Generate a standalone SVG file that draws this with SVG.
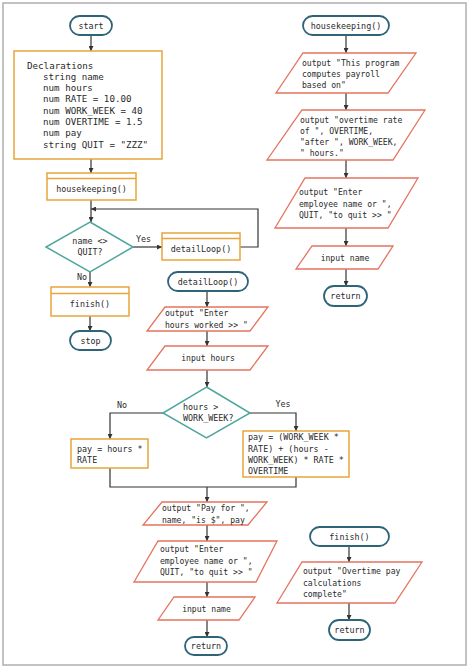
<svg xmlns="http://www.w3.org/2000/svg" width="470" height="668" viewBox="0 0 470 668">
  <style>
    text { font-family: "DejaVu Sans Mono", "Liberation Mono", monospace; fill: #2a2a2a; }
    .t  { font-size: 8.4px; }
    .p  { font-size: 8.1px; }
    .d  { font-size: 9.2px; }
    .c  { text-anchor: middle; }
    .term { fill: #fff; stroke: #2e6378; stroke-width: 1.8; }
    .proc { fill: #fff; stroke: #e9a53b; stroke-width: 1.5; }
    .io   { fill: #fff; stroke: #e5735f; stroke-width: 1.3; }
    .dec  { fill: #fff; stroke: #4fa79c; stroke-width: 1.5; }
    .wire { fill: none; stroke: #333; stroke-width: 1.2; }
    .arr  { marker-end: url(#ah); }
  </style>
  <defs>
    <marker id="ah" viewBox="0 0 8 8" refX="8" refY="4" markerWidth="5" markerHeight="5" markerUnits="userSpaceOnUse" orient="auto">
      <path d="M0,0 L8,4 L0,8 z" fill="#333"/>
    </marker>
  </defs>

  <rect x="0" y="0" width="470" height="668" fill="#fff"/>
  <rect x="3" y="3" width="463" height="662" fill="none" stroke="#b0aeb0" stroke-width="1.5"/>

  <!-- connectors -->
  <g id="connectors">
    <!-- main program -->
    <path class="wire arr" d="M91,35 V51"/>
    <path class="wire arr" d="M91,159 V173"/>
    <path class="wire arr" d="M91,200 V222"/>
    <path class="wire arr" d="M133,247 H162"/>
    <path class="wire arr" d="M240,247 H258 V209 H91"/>
    <path class="wire arr" d="M90,272 V287"/>
    <path class="wire arr" d="M90,316 V331"/>
    <!-- detailLoop -->
    <path class="wire arr" d="M207,291 V307"/>
    <path class="wire arr" d="M207,331 V346"/>
    <path class="wire arr" d="M207,370 V387"/>
    <path class="wire arr" d="M163,413 H110 V439"/>
    <path class="wire arr" d="M250,413 H296 V431"/>
    <path class="wire" d="M110,468 V487 H296 V477"/>
    <path class="wire arr" d="M207,487 V502"/>
    <path class="wire arr" d="M207,525 V541"/>
    <path class="wire arr" d="M207,582 V597"/>
    <path class="wire arr" d="M207,620 V637"/>
    <!-- housekeeping -->
    <path class="wire arr" d="M346,35 V53"/>
    <path class="wire arr" d="M346,93 V110"/>
    <path class="wire arr" d="M346,160 V178"/>
    <path class="wire arr" d="M346,228 V246"/>
    <path class="wire arr" d="M346,269 V286"/>
    <!-- finish -->
    <path class="wire arr" d="M349,546 V562"/>
    <path class="wire arr" d="M349,603 V620"/>
  </g>

  <!-- edge labels -->
  <g id="labels" class="t">
    <text x="143.5" y="242" class="c">Yes</text>
    <text x="82" y="280" class="c">No</text>
    <text x="122" y="408" class="c">No</text>
    <text x="283" y="407" class="c">Yes</text>
  </g>

  <!-- main program -->
  <g id="start">
    <rect class="term" x="70" y="16" width="42" height="19" rx="9.5"/>
    <text class="t c" x="91" y="28.5">start</text>
  </g>
  <g id="declarations">
    <rect class="proc" x="14" y="51" width="148" height="108"/>
    <text class="d" x="27" y="68.5">Declarations</text>
    <text class="d" x="43" y="79.8">string name</text>
    <text class="d" x="43" y="91.1">num hours</text>
    <text class="d" x="43" y="102.4">num RATE = 10.00</text>
    <text class="d" x="43" y="113.7">num WORK_WEEK = 40</text>
    <text class="d" x="43" y="125">num OVERTIME = 1.5</text>
    <text class="d" x="43" y="136.3">num pay</text>
    <text class="d" x="43" y="147.6">string QUIT = "ZZZ"</text>
  </g>
  <g id="call-housekeeping">
    <rect class="proc" x="47" y="173" width="89" height="27"/>
    <line class="proc" x1="47" y1="178.5" x2="136" y2="178.5"/>
    <text class="t c" x="91.5" y="192">housekeeping()</text>
  </g>
  <g id="loop-test">
    <polygon class="dec" points="90,222 133,247 90,272 46,247"/>
    <text class="t c" x="90" y="244">name &lt;&gt;</text>
    <text class="t c" x="90" y="255">QUIT?</text>
  </g>
  <g id="call-detailLoop">
    <rect class="proc" x="162" y="233" width="78" height="27"/>
    <line class="proc" x1="162" y1="238.5" x2="240" y2="238.5"/>
    <text class="t c" x="201" y="252">detailLoop()</text>
  </g>
  <g id="call-finish">
    <rect class="proc" x="51" y="287" width="78" height="29"/>
    <line class="proc" x1="51" y1="293.5" x2="129" y2="293.5"/>
    <text class="t c" x="90" y="307">finish()</text>
  </g>
  <g id="stop">
    <rect class="term" x="70" y="331" width="41" height="19" rx="9.5"/>
    <text class="t c" x="90.5" y="343.5">stop</text>
  </g>

  <!-- housekeeping() -->
  <g id="hk-start">
    <rect class="term" x="303" y="16" width="86" height="19" rx="9.5"/>
    <text class="t c" x="346" y="28.5">housekeeping()</text>
  </g>
  <g id="hk-out1">
    <polygon class="io" points="303,53 416,53 388,93 276,93"/>
    <text class="p" x="302" y="66">output "This program</text>
    <text class="p" x="302" y="77">computes payroll</text>
    <text class="p" x="302" y="88">based on"</text>
  </g>
  <g id="hk-out2">
    <polygon class="io" points="302,110 425,110 393,160 267,160"/>
    <text class="p" x="300" y="123">output "overtime rate</text>
    <text class="p" x="300" y="134">of ", OVERTIME,</text>
    <text class="p" x="300" y="145">"after ", WORK_WEEK,</text>
    <text class="p" x="300" y="156">" hours."</text>
  </g>
  <g id="hk-prompt">
    <polygon class="io" points="305,178 418,178 388,228 275,228"/>
    <text class="p" x="299" y="195">output "Enter</text>
    <text class="p" x="299" y="207">employee name or ",</text>
    <text class="p" x="299" y="218">QUIT, "to quit &gt;&gt; "</text>
  </g>
  <g id="hk-input">
    <polygon class="io" points="312,246 393,246 378,269 296,269"/>
    <text class="p c" x="345" y="260.5">input name</text>
  </g>
  <g id="hk-return">
    <rect class="term" x="324" y="286" width="43" height="20" rx="10"/>
    <text class="t c" x="345.5" y="299">return</text>
  </g>

  <!-- detailLoop() -->
  <g id="dl-start">
    <rect class="term" x="168" y="272" width="80" height="19" rx="9.5"/>
    <text class="t c" x="208" y="284.5">detailLoop()</text>
  </g>
  <g id="dl-prompt">
    <polygon class="io" points="165,307 268,307 250,331 147,331"/>
    <text class="p" x="165" y="316">output "Enter</text>
    <text class="p" x="165" y="328">hours worked &gt;&gt; "</text>
  </g>
  <g id="dl-input">
    <polygon class="io" points="165,346 268,346 250,370 147,370"/>
    <text class="p c" x="208" y="361">input hours</text>
  </g>
  <g id="dl-test">
    <polygon class="dec" points="206.5,387 250,413 206.5,438 163,413"/>
    <text class="t" x="183" y="410">hours &gt;</text>
    <text class="t" x="183" y="421">WORK_WEEK?</text>
  </g>
  <g id="dl-regular">
    <rect class="proc" x="71" y="439" width="77" height="29"/>
    <text class="t" x="77" y="452">pay = hours *</text>
    <text class="t" x="77" y="463">RATE</text>
  </g>
  <g id="dl-overtime">
    <rect class="proc" x="243" y="431" width="106" height="46"/>
    <text class="t" x="248" y="440">pay = (WORK_WEEK *</text>
    <text class="t" x="248" y="452">RATE) + (hours -</text>
    <text class="t" x="248" y="463">WORK_WEEK) * RATE *</text>
    <text class="t" x="248" y="474">OVERTIME</text>
  </g>
  <g id="dl-out-pay">
    <polygon class="io" points="162,502 267,502 248,525 143,525"/>
    <text class="p" x="162" y="511">output "Pay for ",</text>
    <text class="p" x="162" y="523">name, "is $", pay</text>
  </g>
  <g id="dl-prompt2">
    <polygon class="io" points="158,541 277,541 256,582 134,582"/>
    <text class="p" x="160" y="552">output "Enter</text>
    <text class="p" x="160" y="564">employee name or ",</text>
    <text class="p" x="160" y="575">QUIT, "to quit &gt;&gt; "</text>
  </g>
  <g id="dl-input2">
    <polygon class="io" points="174,597 255,597 239,620 158,620"/>
    <text class="p c" x="206.5" y="611.5">input name</text>
  </g>
  <g id="dl-return">
    <rect class="term" x="185" y="637" width="42" height="18" rx="9"/>
    <text class="t c" x="206" y="649">return</text>
  </g>

  <!-- finish() -->
  <g id="fin-start">
    <rect class="term" x="310" y="527" width="79" height="19" rx="9.5"/>
    <text class="t c" x="349.5" y="539.5">finish()</text>
  </g>
  <g id="fin-out">
    <polygon class="io" points="302,562 422,562 395,603 277,603"/>
    <text class="p" x="303" y="574">output "Overtime pay</text>
    <text class="p" x="303" y="586">calculations</text>
    <text class="p" x="303" y="597">complete"</text>
  </g>
  <g id="fin-return">
    <rect class="term" x="329" y="620" width="41" height="20" rx="10"/>
    <text class="t c" x="349.5" y="633">return</text>
  </g>
</svg>
